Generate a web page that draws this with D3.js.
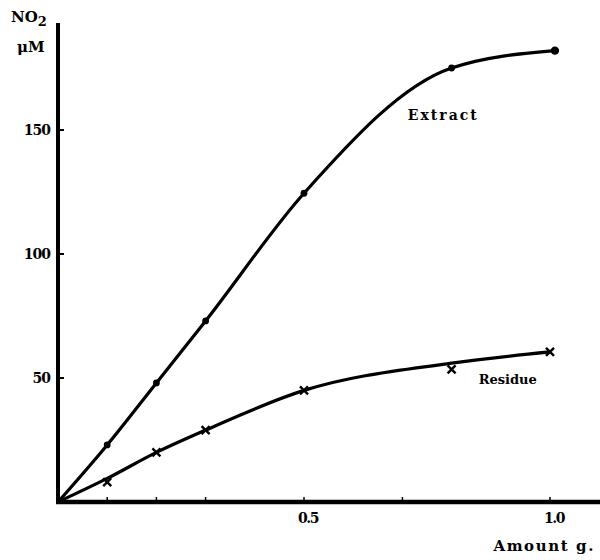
<!DOCTYPE html>
<html>
<head>
<meta charset="utf-8">
<script src="https://cdn.jsdelivr.net/npm/d3@7"></script>
<style>
  body { margin: 0; background: #fff; }
  text { font-family: "DejaVu Serif", "Liberation Serif", serif; font-weight: bold; fill: #000; }
</style>
</head>
<body>
<div id="chart"></div>
<script>
// values
const extractX = [0.1, 0.2, 0.3, 0.5, 0.8, 1.01];
const extractY = [23, 48, 73, 124.5, 175, 182];
const residueX = [0.1, 0.2, 0.3, 0.5, 0.8, 1.0];
const residueY = [8, 20, 29, 45, 53.5, 60.5];
// drawn residue curve (smoothed, not through every point)
const residueCurveX = [0, 0.1, 0.2, 0.3, 0.5, 0.8, 1.0];
const residueCurveY = [0, 9.5, 20, 29, 45, 56, 60.5];
const xTicks = [0.1, 0.2, 0.3, 0.5, 0.7, 1.0];
const xTickLabels = ["0.5", "1.0"];
const yTicks = [50, 100, 150];

const width = 600;
const height = 560;

const svg = d3.select("#chart")
  .append("svg")
    .attr("width", width)
    .attr("height", height);

const x = d3.scaleLinear().domain([0, 1]).range([58, 550]);
const y = d3.scaleLinear().domain([0, 150]).range([502, 130]);

// axes
svg.append("line")
  .attr("x1", x(0)).attr("x2", x(0))
  .attr("y1", y(0) + 2).attr("y2", 23)
  .attr("stroke", "#000").attr("stroke-width", 4);
svg.append("line")
  .attr("x1", x(0) - 2).attr("x2", 600)
  .attr("y1", y(0)).attr("y2", y(0))
  .attr("stroke", "#000").attr("stroke-width", 4.5);

// y ticks (pointing inward)
svg.selectAll(".ytick")
  .data(yTicks)
  .enter().append("line")
  .attr("x1", x(0)).attr("x2", x(0) + 6)
  .attr("y1", d => y(d)).attr("y2", d => y(d))
  .attr("stroke", "#000").attr("stroke-width", 2);
svg.selectAll(".ylab")
  .data(yTicks)
  .enter().append("text")
  .attr("x", 50)
  .attr("y", d => y(d) + 5)
  .attr("text-anchor", "end")
  .style("font-size", "14px")
  .style("letter-spacing", "-1px")
  .text(d => d);

// x ticks (small bumps upward)
svg.selectAll(".xtick")
  .data(xTicks)
  .enter().append("line")
  .attr("x1", d => x(d)).attr("x2", d => x(d))
  .attr("y1", y(0)).attr("y2", y(0) - 5)
  .attr("stroke", "#000").attr("stroke-width", 1.5);
svg.selectAll(".xlab")
  .data(xTickLabels)
  .enter().append("text")
  .attr("x", d => x(+d) + 4)
  .attr("y", 523)
  .attr("text-anchor", "middle")
  .style("font-size", "14px")
  .style("letter-spacing", "-1.5px")
  .text(d => d);

// axis titles
const yTitle = svg.append("text").attr("x", 11).attr("y", 22).style("font-size", "15px");
yTitle.append("tspan").text("NO");
yTitle.append("tspan").attr("dy", 4).style("font-size", "13px").text("2");
svg.append("text").attr("x", 17).attr("y", 52).style("font-size", "15px").text("\u03bcM");
svg.append("text")
  .attr("x", 595).attr("y", 551)
  .attr("text-anchor", "end")
  .style("font-size", "15px")
  .style("letter-spacing", "1.6px")
  .text("Amount g.");

// curves
const line = d3.line()
  .x(d => x(d[0]))
  .y(d => y(d[1]))
  .curve(d3.curveMonotoneX);

const extractPts = extractX.map((v, i) => [v, extractY[i]]);
const residuePts = residueX.map((v, i) => [v, residueY[i]]);
const residueCurve = residueCurveX.map((v, i) => [v, residueCurveY[i]]);

svg.append("path")
  .datum([[0, 0]].concat(extractPts))
  .attr("d", line)
  .attr("fill", "none").attr("stroke", "#000").attr("stroke-width", 3.2);
svg.append("path")
  .datum(residueCurve)
  .attr("d", line)
  .attr("fill", "none").attr("stroke", "#000").attr("stroke-width", 3.2);

// markers
svg.selectAll(".dot")
  .data(extractPts)
  .enter().append("circle")
  .attr("cx", d => x(d[0])).attr("cy", d => y(d[1]))
  .attr("r", (d, i) => i === extractPts.length - 1 ? 4.2 : 3.4)
  .attr("fill", "#000");
svg.selectAll(".cross")
  .data(residuePts)
  .enter().append("path")
  .attr("transform", d => "translate(" + x(d[0]) + "," + y(d[1]) + ")")
  .attr("d", "M-4,-4L4,4M-4,4L4,-4")
  .attr("stroke", "#000").attr("stroke-width", 2.4);

// series labels
svg.append("text")
  .attr("x", x(0.711)).attr("y", y(154))
  .style("font-size", "14px").style("letter-spacing", "2px")
  .text("Extract");
svg.append("text")
  .attr("x", x(0.855)).attr("y", y(47.6))
  .style("font-size", "13px")
  .text("Residue");
</script>
</body>
</html>
